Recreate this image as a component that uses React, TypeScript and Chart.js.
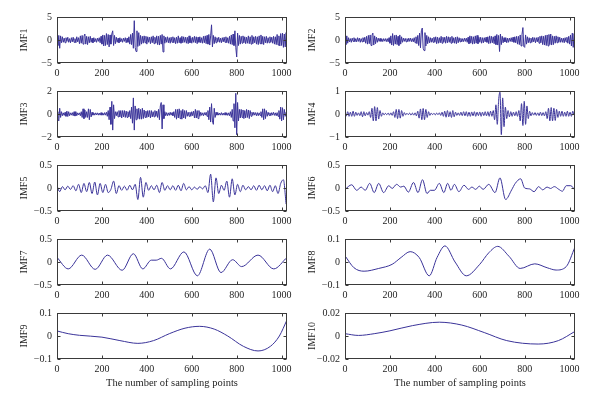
import React, { useEffect, useRef } from "react";
import { Chart, registerables } from "chart.js";

Chart.register(...registerables);

// ---------------- data ----------------
const X_TICKS = [0, 200, 400, 600, 800, 1000];
const X_MAX = 1024;
const X_LABEL = "The number of sampling points";

// IMF1 (one value every 4 samples)
const IMF1_STEP = 4;
const IMF1 = [
  0.4, -1.2, 1.0, -1.8, 0.9, -0.6, 0.7, -0.5, 0.4, -0.6, 0.5, -0.3, 0.6, -0.5, 0.3, -0.6,
  0.5, -0.4, 0.6, -0.5, 0.3, -0.6, 0.7, -0.4, 0.5, -0.8, 0.9, -0.7, 1.0, -0.9, 0.8, 1.3,
  -0.9, 0.8, -1.0, 0.7, -0.6, 0.8, -0.5, 0.4, -0.6, 0.5, -0.4, 0.3, -0.5, 0.4, -0.3, 0.5,
  -0.6, 0.8, -0.9, 1.1, -1.3, 1.0, -1.2, 1.4, -1.0, 1.2, -1.5, 1.1, -0.9, 1.3, 2.0, -1.2,
  1.0, -0.8, 0.6, -0.5, 0.4, -0.6, 0.5, -0.4, 0.3, -0.5, 0.4, -0.3, 0.5, -0.6, 0.4, -0.5,
  0.7, -0.9, 1.2, -1.0, 1.5, -1.8, 4.2, -1.6, -2.5, 2.0, -1.4, 1.6, -1.2, 1.0, -0.9, 0.8,
  -0.7, 0.9, -0.6, 0.8, -0.9, 0.7, -0.5, 0.6, -0.8, 0.7, -0.6, 0.9, -0.8, 0.6, -0.7, 0.9,
  -1.0, 0.8, -1.1, 1.0, -0.9, 1.2, -2.6, 0.9, -0.7, 0.6, -0.5, 0.7, -0.6, 0.5, -0.7, 0.6,
  -0.5, 0.7, -0.6, 0.5, -0.8, 0.6, -0.7, 0.9, -0.6, 0.5, -0.7, 0.8, -0.6, 0.7, -0.5, 0.6,
  -0.7, 0.6, -0.8, 0.9, -0.6, 0.5, -0.7, 0.6, -0.5, 0.8, -0.6, 0.7, -0.8, 0.6, -0.5, 0.7,
  -0.6, 0.5, -0.7, 0.8, -0.6, 0.9, -0.8, 1.0, -0.9, 1.2, -1.1, 0.9, 3.3, -1.5, 1.0, -0.8,
  0.7, -0.6, 0.5, -0.4, 0.6, -0.5, 0.4, -0.6, 0.5, -0.4, 0.6, -0.5, 0.7, -0.6, 0.5, -0.7,
  0.8, -0.9, 1.1, -1.0, 1.3, -1.2, 2.0, -1.6, -3.7, 1.5, -1.2, 1.0, -0.9, 0.8, -0.7, 0.9,
  -0.6, 0.7, -0.8, 0.6, -0.7, 0.9, -0.8, 0.7, -0.9, 1.0, -0.8, 0.7, -0.6, 0.8, -0.9, 0.7,
  -1.0, 0.9, -0.8, 1.1, -0.9, 0.8, -1.0, 0.7, -0.6, 0.8, -0.7, 0.5, -0.6, 0.7, -0.5, 0.6,
  -0.7, 0.8, -0.9, 0.7, -1.0, 1.2, -1.1, 0.9, -1.3, 1.4, -1.2, 1.5, -1.6, 1.3, -1.5, 1.6,
  -1.2,
];

// IMF2 (one value every 4 samples)
const IMF2_STEP = 4;
const IMF2 = [
  0.8, -1.0, 0.9, -0.7, 0.5, -0.4, 0.3, -0.5, 0.4, -0.3, 0.5, -0.4, 0.3, -0.4, 0.5, -0.3,
  0.4, -0.5, 0.3, -0.4, 0.5, -0.4, 0.6, -0.7, 0.8, -0.9, 1.0, -0.8, 1.1, -1.2, 1.0, 1.5,
  -1.1, 0.9, -0.8, 0.6, -0.5, 0.4, -0.3, 0.35, -0.3, 0.25, -0.35, 0.3, -0.25, 0.3, -0.35, 0.3,
  -0.4, 0.5, -0.7, 0.9, -1.1, 1.4, -1.2, 1.0, -0.9, 1.1, -1.0, 0.8, -1.2, 1.1, -0.9, 0.7,
  -0.5, 0.4, -0.3, 0.35, -0.4, 0.3, -0.35, 0.4, -0.3, 0.4, -0.35, 0.3, -0.4, 0.5, -0.6, 0.7,
  -0.8, 1.0, -1.2, 1.5, -1.7, 2.0, 2.6, -1.8, -2.3, 1.6, -1.3, 1.0, -0.8, 0.7, -0.6, 0.5,
  -0.5, 0.4, -0.5, 0.6, -0.5, 0.7, -0.8, 0.6, -0.7, 0.5, -0.6, 0.8, -0.7, 0.6, -0.5, 0.6,
  -0.7, 0.8, -0.6, 0.7, -0.5, 0.6, -0.7, 0.8, -0.6, 0.5, -0.7, 0.6, -0.8, 0.7, -0.6, 0.5,
  -0.4, 0.35, -0.4, 0.3, -0.35, 0.4, -0.3, 0.4, -0.5, 0.6, -0.8, 0.9, -0.7, 0.8, -0.9, 0.7,
  -0.8, 0.9, -0.7, 1.0, -0.8, 0.6, -0.5, 0.6, -0.7, 0.5, -0.6, 0.5, -0.4, 0.6, -0.5, 0.7,
  -0.8, 0.9, -0.7, 0.8, -0.6, 0.7, -0.8, 0.9, -1.0, 1.2, -1.1, 1.0, -2.5, 1.3, -1.0, 0.8,
  -0.6, 0.5, -0.4, 0.5, -0.6, 0.4, -0.5, 0.4, -0.3, 0.5, -0.4, 0.6, -0.5, 0.7, -0.6, 0.8,
  -0.9, 0.8, -1.0, 1.1, -1.3, 1.2, 2.7, -1.4, -1.6, 1.1, -0.9, 0.7, -0.6, 0.5, -0.6, 0.4,
  -0.5, 0.6, -0.4, 0.5, -0.6, 0.5, -0.4, 0.6, -0.7, 0.8, -0.6, 0.9, -1.0, 0.8, -1.1, 1.0,
  -1.2, 1.1, -1.3, 1.2, -1.0, 1.3, -1.1, 0.9, -1.0, 0.8, -0.7, 0.9, -0.6, 0.7, -0.5, 0.6,
  -0.5, 0.4, -0.5, 0.4, -0.6, 0.5, -0.4, 0.6, -0.7, 0.8, -0.9, 1.1, -1.3, 1.5, -1.6, 1.4,
  -1.2,
];

// IMF3 (one value every 4 samples)
const IMF3_STEP = 4;
const IMF3 = [
  0.2, -0.4, -0.6, 0.5, -0.3, 0.2, -0.15, 0.1, -0.12, 0.15, -0.2, 0.25, -0.22, 0.2, -0.15, 0.1,
  -0.1, 0.12, -0.15, 0.2, -0.18, 0.2, -0.15, 0.1, -0.08, 0.1, -0.15, 0.2, -0.3, 0.45, -0.4, 0.35,
  -0.3, 0.2, -0.3, 0.45, -0.5, 0.4, -0.25, 0.15, -0.1, 0.08, -0.1, 0.1, -0.08, 0.1, -0.1, 0.08,
  -0.1, 0.12, -0.1, 0.08, -0.1, 0.12, -0.1, 0.15, -0.2, 0.3, -0.5, 0.6, -0.9, 1.1, -1.4, 0.8,
  -0.4, 0.2, -0.15, 0.2, -0.25, 0.3, -0.25, 0.3, -0.35, 0.3, -0.25, 0.3, -0.3, 0.25, -0.3, 0.2,
  -0.25, 0.3, -0.4, 0.6, -0.8, 1.4, -1.4, 0.7, -0.5, 0.45, -0.4, 0.5, -0.45, 0.4, -0.45, 0.5,
  -0.4, 0.35, -0.3, 0.25, -0.3, 0.3, -0.25, 0.3, -0.35, 0.3, -0.25, 0.2, -0.25, 0.3, -0.2, 0.25,
  -0.3, 0.4, -0.5, 0.7, 1.0, -1.3, 0.8, -0.4, 0.2, -0.15, 0.12, -0.15, 0.1, -0.12, 0.15, -0.1,
  0.12, -0.15, 0.2, -0.3, 0.4, -0.45, 0.4, -0.35, 0.45, -0.4, 0.3, -0.45, 0.4, -0.35, 0.3, -0.4,
  0.3, -0.2, 0.15, -0.2, 0.15, -0.2, 0.2, -0.15, 0.25, -0.35, 0.4, -0.35, 0.3, -0.4, 0.3, -0.2,
  0.15, -0.12, 0.1, -0.15, 0.12, -0.1, 0.15, -0.2, 0.3, -0.5, 0.6, -0.7, 0.9, -0.6, -0.9, 0.5,
  -0.3, 0.15, -0.1, 0.12, -0.1, 0.08, -0.1, 0.12, -0.1, 0.08, -0.1, 0.12, -0.1, 0.1, -0.12, 0.1,
  -0.15, 0.2, -0.3, 0.4, -0.6, 0.9, -1.2, 1.8, -1.8, 1.0, -0.6, 0.4, -0.35, 0.4, -0.3, 0.35,
  -0.4, 0.3, -0.35, 0.4, -0.3, 0.35, -0.4, 0.3, -0.2, 0.15, -0.12, 0.15, -0.1, 0.12, -0.15, 0.12,
  -0.15, 0.1, -0.12, 0.2, -0.3, 0.45, -0.5, 0.45, -0.4, 0.3, -0.2, 0.15, -0.12, 0.1, -0.15, 0.12,
  -0.1, 0.15, -0.12, 0.1, -0.15, 0.12, -0.2, 0.3, -0.45, 0.6, -0.6, 0.55, -0.5, 0.4, -0.2, 0.15,
  -0.1,
];

// IMF4 (one value every 6 samples)
const IMF4_STEP = 6;
const IMF4 = [
  0.05, -0.08, 0.1, -0.1, 0.08, -0.1, 0.12, -0.1, 0.08, -0.06,
  0.05, -0.07, 0.1, -0.12, 0.1, -0.08, 0.06, -0.05, 0.1, -0.15,
  0.25, -0.3, 0.32, -0.3, 0.28, -0.22, 0.15, -0.1, 0.05, -0.04,
  0.03, -0.03, 0.04, -0.05, 0.05, -0.06, 0.1, -0.15, 0.2, -0.2,
  0.2, -0.18, 0.15, -0.1, 0.06, -0.04, 0.03, -0.03, 0.04, -0.05,
  0.04, -0.05, 0.05, -0.08, 0.12, -0.18, 0.22, -0.25, 0.24, -0.25,
  0.2, -0.15, 0.1, -0.06, 0.04, -0.03, 0.03, -0.04, 0.04, -0.03,
  0.05, -0.06, 0.08, -0.1, 0.12, -0.14, 0.15, -0.12, 0.1, -0.15,
  0.15, -0.12, 0.08, -0.06, 0.05, -0.06, 0.08, -0.07, 0.1, -0.08,
  0.1, -0.1, 0.08, -0.1, 0.09, -0.08, 0.1, -0.1, 0.08, -0.07,
  0.09, -0.1, 0.08, -0.07, 0.1, -0.08, 0.1, -0.1, 0.12, -0.1,
  0.15, -0.25, 0.4, -0.45, 0.6, 0.95, -0.9, 0.7, -0.55, 0.3,
  -0.2, 0.15, -0.12, 0.1, -0.1, 0.08, -0.08, 0.1, -0.1, 0.15,
  -0.3, 0.45, -0.5, 0.55, -0.45, 0.35, -0.2, 0.12, -0.08, 0.06,
  -0.05, 0.06, -0.06, 0.05, -0.07, 0.08, -0.07, 0.06, -0.08, 0.1,
  -0.2, 0.25, -0.3, 0.28, -0.3, 0.25, -0.28, 0.2, -0.15, 0.12,
  -0.1, 0.12, -0.1, 0.08, -0.1, 0.12, -0.1, 0.08, -0.1, 0.12,
  -0.05,
];

// IMF5 (one value every 12 samples)
const IMF5_STEP = 12;
const IMF5 = [
  0.05, -0.08, 0.03, -0.04, 0.04, -0.03, 0.05, -0.06, 0.08, -0.1,
  0.1, -0.08, 0.12, -0.12, 0.13, -0.15, 0.1, -0.1, 0.08, -0.1,
  -0.03, 0.15, -0.12, 0.05, -0.05, 0.04, -0.05, 0.06, -0.04, 0.08,
  -0.25, 0.23, -0.2, 0.12, -0.05, 0.05, -0.04, 0.06, -0.1, 0.12,
  -0.05, 0.05, -0.04, 0.05, -0.05, 0.06, -0.06, 0.1, -0.04, 0.03,
  -0.04, 0.02, -0.03, 0.03, -0.02, 0.05, -0.1, 0.3, -0.3, 0.22,
  -0.12, 0.06, -0.05, 0.15, -0.2, 0.2, -0.15, 0.08, -0.08, 0.06,
  -0.04, 0.03, -0.04, 0.05, -0.05, 0.06, -0.04, 0.05, -0.06, 0.06,
  -0.08, 0.05, -0.12, 0.1, 0.18, -0.35,
];

// IMF6..IMF10: sample positions and values of the turning points
const IMF6_X = [0, 30, 52, 72, 90, 110, 130, 150, 172, 195, 210, 230, 248, 262, 282, 305, 325, 345, 365, 380, 398, 420, 440, 457, 472, 487, 507, 530, 550, 565, 582, 598, 615, 640, 668, 690, 715, 742, 758, 782, 800, 822, 842, 862, 880, 900, 915, 932, 952, 968, 985, 1005, 1024];
const IMF6_Y = [-0.03, 0.07, -0.05, 0.02, -0.05, 0.1, -0.1, 0.1, -0.1, 0.05, -0.01, 0.08, 0.02, 0.04, -0.09, 0.12, -0.1, 0.18, -0.12, -0.05, -0.05, 0.1, -0.1, 0.1, -0.05, 0.08, -0.08, 0.06, -0.03, 0.02, -0.03, 0.04, -0.03, 0.08, -0.1, 0.22, -0.25, -0.04, 0.1, 0.2, 0.0, -0.02, -0.08, 0.03, -0.04, 0.02, -0.01, 0.03, -0.03, -0.07, 0.05, 0.05, -0.05];

const IMF7_X = [0, 50, 110, 170, 225, 290, 340, 382, 420, 442, 465, 505, 565, 625, 680, 730, 782, 822, 895, 965, 1024];
const IMF7_Y = [0.1, -0.15, 0.15, -0.16, 0.15, -0.18, 0.18, -0.15, 0.04, 0.04, 0.08, -0.15, 0.22, -0.3, 0.28, -0.23, 0.05, -0.1, 0.15, -0.15, 0.1];

const IMF8_X = [0, 40, 85, 150, 210, 250, 290, 330, 375, 410, 445, 490, 540, 600, 640, 680, 730, 780, 845, 900, 940, 985, 1024];
const IMF8_Y = [0.027, -0.025, -0.04, -0.028, -0.01, 0.02, 0.045, 0.02, -0.06, 0.02, 0.07, 0.0, -0.06, -0.01, 0.04, 0.068, 0.025, -0.028, -0.008, -0.025, -0.035, -0.02, 0.065];

const IMF9_X = [0, 50, 100, 200, 280, 360, 430, 500, 570, 635, 700, 760, 830, 895, 950, 990, 1024];
const IMF9_Y = [0.022, 0.01, 0.003, -0.005, -0.02, -0.032, -0.02, 0.01, 0.034, 0.042, 0.03, 0.0, -0.045, -0.065, -0.045, 0.0, 0.07];

const IMF10_X = [0, 60, 130, 200, 300, 420, 520, 620, 720, 860, 950, 1024];
const IMF10_Y = [0.002, 0.0005, 0.002, 0.0045, 0.009, 0.012, 0.0095, 0.003, -0.004, -0.007, -0.004, 0.004];

// y-axis ticks of each panel
const IMF1_TICKS = [-5, 0, 5];
const IMF2_TICKS = [-5, 0, 5];
const IMF3_TICKS = [-2, 0, 2];
const IMF4_TICKS = [-1, 0, 1];
const IMF5_TICKS = [-0.5, 0, 0.5];
const IMF6_TICKS = [-0.5, 0, 0.5];
const IMF7_TICKS = [-0.5, 0, 0.5];
const IMF8_TICKS = [-0.1, 0, 0.1];
const IMF9_TICKS = [-0.1, 0, 0.1];
const IMF10_TICKS = [-0.02, 0, 0.02];

// ---------------- helpers ----------------
type Pt = { x: number; y: number };
const stepped = (vals: number[], step: number): Pt[] => vals.map((y, i) => ({ x: i * step, y }));
const paired = (xs: number[], ys: number[]): Pt[] => xs.map((x, i) => ({ x, y: ys[i] }));

type Spec = { name: string; col: number; row: number; ticks: number[]; pts: Pt[]; smooth: boolean; lw: number };

const PANELS: Spec[] = [
  { name: "IMF1", col: 0, row: 0, ticks: IMF1_TICKS, pts: stepped(IMF1, IMF1_STEP), smooth: false, lw: 1 },
  { name: "IMF2", col: 1, row: 0, ticks: IMF2_TICKS, pts: stepped(IMF2, IMF2_STEP), smooth: false, lw: 1 },
  { name: "IMF3", col: 0, row: 1, ticks: IMF3_TICKS, pts: stepped(IMF3, IMF3_STEP), smooth: false, lw: 1 },
  { name: "IMF4", col: 1, row: 1, ticks: IMF4_TICKS, pts: stepped(IMF4, IMF4_STEP), smooth: true, lw: 1 },
  { name: "IMF5", col: 0, row: 2, ticks: IMF5_TICKS, pts: stepped(IMF5, IMF5_STEP), smooth: true, lw: 1 },
  { name: "IMF6", col: 1, row: 2, ticks: IMF6_TICKS, pts: paired(IMF6_X, IMF6_Y), smooth: true, lw: 1 },
  { name: "IMF7", col: 0, row: 3, ticks: IMF7_TICKS, pts: paired(IMF7_X, IMF7_Y), smooth: true, lw: 1 },
  { name: "IMF8", col: 1, row: 3, ticks: IMF8_TICKS, pts: paired(IMF8_X, IMF8_Y), smooth: true, lw: 1 },
  { name: "IMF9", col: 0, row: 4, ticks: IMF9_TICKS, pts: paired(IMF9_X, IMF9_Y), smooth: true, lw: 1 },
  { name: "IMF10", col: 1, row: 4, ticks: IMF10_TICKS, pts: paired(IMF10_X, IMF10_Y), smooth: true, lw: 1 },
];

// ---------------- layout ----------------
const PLOT_LEFT = [57, 345];
const PLOT_W = 230;
const PLOT_TOP = [16, 90, 164, 238, 312];
const PLOT_H = 47;
const Y_AXIS_W = 39;
const PAD_LEFT = 18;
const PAD_TOP = 10;
const PAD_RIGHT = 12;
const X_AXIS_H = 18;
const X_AXIS_H_LAST = 31;

const FONT = "'Liberation Serif', 'Times New Roman', 'DejaVu Serif', serif";
const LINE_COLOR = "#3a3399";
const TEXT_COLOR = "#1f1f1f";
const AXIS_COLOR = "#3a3a3a";

const fmt = (v: number) => (v < 0 ? "\u2212" + String(Math.abs(v)) : String(v));

const boxPlugin = {
  id: "matlabBox",
  afterDatasetsDraw(chart: any) {
    const { ctx, chartArea: a, scales } = chart;
    const l = Math.round(a.left) + 0.5;
    const r = Math.round(a.right) - 0.5;
    const t = Math.round(a.top) + 0.5;
    const b = Math.round(a.bottom) - 0.5;
    ctx.save();
    ctx.strokeStyle = AXIS_COLOR;
    ctx.lineWidth = 1;
    ctx.strokeRect(l, t, r - l, b - t);
    ctx.beginPath();
    scales.x.ticks.forEach((tk: any) => {
      const p = Math.round(scales.x.getPixelForValue(tk.value)) + 0.5;
      ctx.moveTo(p, b);
      ctx.lineTo(p, b - 3);
      ctx.moveTo(p, t);
      ctx.lineTo(p, t + 3);
    });
    scales.y.ticks.forEach((tk: any) => {
      const p = Math.round(scales.y.getPixelForValue(tk.value)) + 0.5;
      ctx.moveTo(l, p);
      ctx.lineTo(l + 3, p);
      ctx.moveTo(r, p);
      ctx.lineTo(r - 3, p);
    });
    ctx.stroke();
    ctx.restore();
  },
};

function Panel({ spec }: { spec: Spec }) {
  const ref = useRef<HTMLCanvasElement | null>(null);
  const last = spec.row === 4;
  const xAxisH = last ? X_AXIS_H_LAST : X_AXIS_H;
  const width = PAD_LEFT + Y_AXIS_W + PLOT_W + PAD_RIGHT;
  const height = PAD_TOP + PLOT_H + xAxisH;
  const left = PLOT_LEFT[spec.col] - PAD_LEFT - Y_AXIS_W;
  const top = PLOT_TOP[spec.row] - PAD_TOP;

  useEffect(() => {
    if (!ref.current) return;
    const yMin = spec.ticks[0];
    const yMax = spec.ticks[spec.ticks.length - 1];
    const chart = new Chart(ref.current, {
      type: "line",
      data: {
        datasets: [
          {
            data: spec.pts,
            borderColor: LINE_COLOR,
            borderWidth: spec.lw,
            pointRadius: 0,
            fill: false,
            tension: 0,
            cubicInterpolationMode: spec.smooth ? "monotone" : "default",
          } as any,
        ],
      },
      options: {
        animation: false,
        responsive: false,
        maintainAspectRatio: false,
        events: [],
        layout: { padding: { left: PAD_LEFT, top: PAD_TOP, right: PAD_RIGHT, bottom: 0 } },
        plugins: { legend: { display: false }, tooltip: { enabled: false }, title: { display: false } },
        scales: {
          x: {
            type: "linear",
            min: 0,
            max: X_MAX,
            grid: { display: false, drawTicks: false, tickLength: 0 },
            border: { display: false },
            afterBuildTicks: (s: any) => {
              s.ticks = X_TICKS.map((v) => ({ value: v }));
            },
            afterFit: (s: any) => {
              s.height = xAxisH;
            },
            ticks: {
              padding: 4,
              maxRotation: 0,
              autoSkip: false,
              color: TEXT_COLOR,
              font: { family: FONT, size: 10 },
              callback: (v: any) => fmt(Number(v)),
            },
            title: {
              display: last,
              text: X_LABEL,
              color: TEXT_COLOR,
              padding: 0,
              font: { family: FONT, size: 10.5 },
            },
          },
          y: {
            type: "linear",
            min: yMin,
            max: yMax,
            grid: { display: false, drawTicks: false, tickLength: 0 },
            border: { display: false },
            afterBuildTicks: (s: any) => {
              s.ticks = spec.ticks.map((v) => ({ value: v }));
            },
            afterFit: (s: any) => {
              s.width = Y_AXIS_W;
            },
            ticks: {
              padding: 5,
              autoSkip: false,
              color: TEXT_COLOR,
              font: { family: FONT, size: 10 },
              callback: (v: any) => fmt(Number(v)),
            },
            title: {
              display: true,
              text: spec.name,
              color: TEXT_COLOR,
              padding: 0,
              font: { family: FONT, size: 10 },
            },
          },
        },
      } as any,
      plugins: [boxPlugin as any],
    });
    return () => chart.destroy();
  }, []);

  return (
    <canvas
      ref={ref}
      width={width}
      height={height}
      style={{ position: "absolute", left, top, width, height }}
    />
  );
}

export default function App() {
  return (
    <div
      style={{
        position: "absolute",
        left: 0,
        top: 0,
        width: 600,
        height: 399,
        background: "#ffffff",
        overflow: "hidden",
      }}
    >
      {PANELS.map((p) => (
        <Panel key={p.name} spec={p} />
      ))}
    </div>
  );
}
